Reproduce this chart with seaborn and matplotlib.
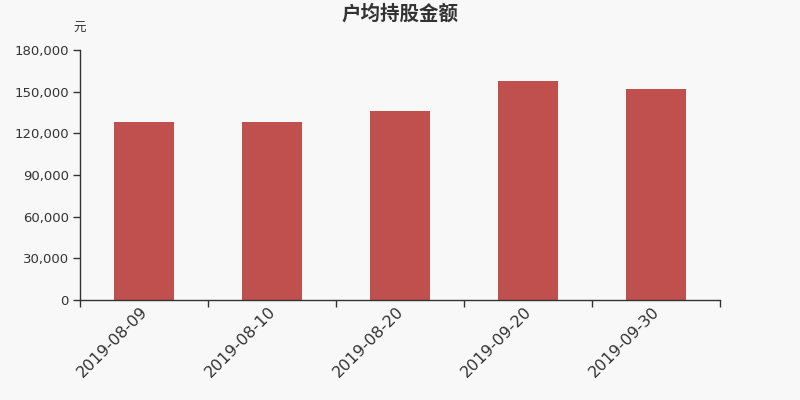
import matplotlib
matplotlib.use("Agg")
import matplotlib.pyplot as plt
import matplotlib.ticker as mticker
import matplotlib.transforms as mtrans
import seaborn as sns
import pandas as pd

categories = ["2019-08-09", "2019-08-10", "2019-08-20", "2019-09-20", "2019-09-30"]
values = [128000, 128000, 136300, 157700, 151900]
yticks = [0, 30000, 60000, 90000, 120000, 150000, 180000]

sns.set_style("white", {"xtick.bottom": True, "ytick.left": True})
plt.rcParams['font.family'] = ['Noto Sans CJK SC', 'DejaVu Sans']

bg = "#f8f8f8"
fig = plt.figure(figsize=(8, 4), dpi=100, facecolor=bg)
ax = fig.add_axes([0.1, 0.25, 0.8, 0.625], facecolor=bg)

df = pd.DataFrame({"date": categories, "value": values})
sns.barplot(data=df, x="date", y="value", color="#c0504d", saturation=1, width=0.47,
            linewidth=0, ax=ax)

ax.set_xlim(-0.5, len(categories) - 0.5)
ax.set_ylim(0, 180000)
ax.set_yticks(yticks)
ax.yaxis.set_major_formatter(mticker.FuncFormatter(lambda v, p: f"{int(v):,}"))
ax.set_xlabel("")
ax.set_ylabel("")

ax.set_xticks(range(len(categories)))
ax.set_xticklabels(categories, rotation=45, ha="right", rotation_mode="anchor",
                   fontsize=11.5, color="#333333", family=['DejaVu Sans'])
ax.tick_params(axis="x", which="major", length=0, pad=3)
offset = mtrans.ScaledTranslation(-4 / 100, 0, fig.dpi_scale_trans)
for lbl in ax.get_xticklabels():
    lbl.set_transform(lbl.get_transform() + offset)
ax.set_xticks([i - 0.5 for i in range(len(categories) + 1)], minor=True)
ax.tick_params(axis="x", which="minor", bottom=True, length=5, width=1,
               color="#333333", direction="out")
ax.tick_params(axis="y", left=True, length=5, width=1, color="#333333", direction="out",
               labelsize=9.5, labelcolor="#333333", pad=3)
for lbl in ax.get_yticklabels():
    lbl.set_family(['DejaVu Sans'])

for s in ["top", "right"]:
    ax.spines[s].set_visible(False)
for s in ["left", "bottom"]:
    ax.spines[s].set_color("#333333")
    ax.spines[s].set_linewidth(1)

fig.text(0.5, 0.965, "户均持股金额", ha="center", va="center", fontsize=14,
         fontweight="bold", color="#333333")
fig.text(0.1, 0.93, "元", ha="center", va="center", fontsize=9, color="#333333")

fig.savefig("out.png", dpi=100, facecolor=bg)
